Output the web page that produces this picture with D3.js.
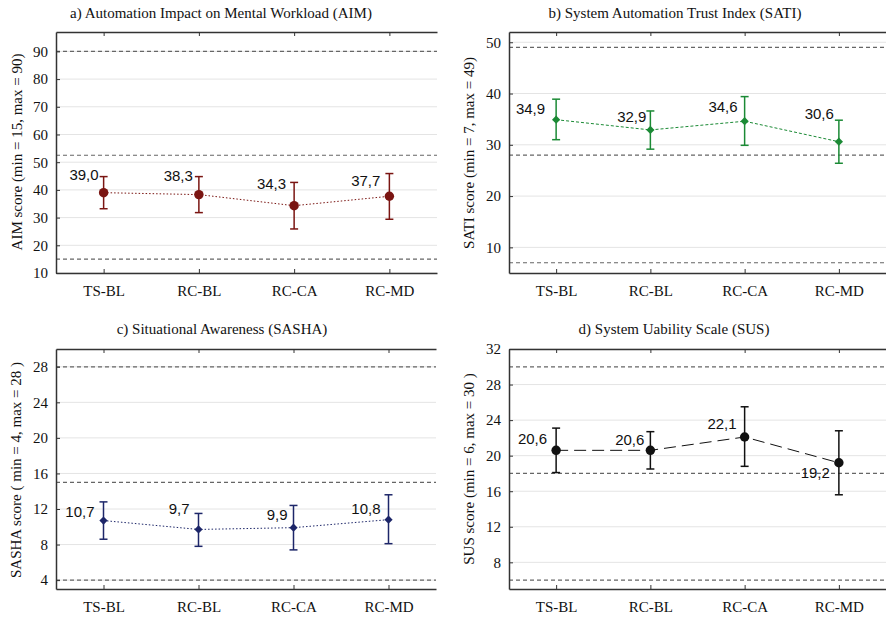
<!DOCTYPE html>
<html>
<head>
<meta charset="utf-8">
<script src="https://cdn.jsdelivr.net/npm/d3@7"></script>
<style>
  body { margin: 0; background: #fff; }
  svg text { fill: #111; }
  .tick-lbl, .axis text { font-family: "Liberation Serif", "Times New Roman", serif; font-size: 15px; }
  .title, .ylab { font-family: "Liberation Serif", "Times New Roman", serif; font-size: 15px; }
  .val { font-family: "Liberation Sans", Arial, sans-serif; font-size: 15px; }
  .axis path, .axis line { stroke: #333; }
</style>
</head>
<body>
<svg id="chart" width="886" height="617"></svg>
<script>
// categorias
const groups = ["TS-BL", "RC-BL", "RC-CA", "RC-MD"];

// a) AIM
const aimMean = [39.0, 38.3, 34.3, 37.7];
const aimLow  = [33.2, 31.8, 25.9, 29.4];
const aimHigh = [44.8, 44.8, 42.7, 45.9];
const aimTicks = [10, 20, 30, 40, 50, 60, 70, 80, 90];
const aimRefs = [15, 52.5, 90];

// b) SATI
const satiMean = [34.9, 32.9, 34.6, 30.6];
const satiLow  = [31.0, 29.15, 29.9, 26.4];
const satiHigh = [38.9, 36.6, 39.4, 34.8];
const satiTicks = [10, 20, 30, 40, 50];
const satiRefs = [7, 28, 49];

// c) SASHA
const sashaMean = [10.7, 9.7, 9.9, 10.8];
const sashaLow  = [8.6, 7.8, 7.4, 8.1];
const sashaHigh = [12.8, 11.5, 12.4, 13.6];
const sashaTicks = [4, 8, 12, 16, 20, 24, 28];
const sashaRefs = [4, 15, 28];

// d) SUS
const susMean = [20.6, 20.6, 22.1, 19.2];
const susLow  = [18.1, 18.5, 18.8, 15.6];
const susHigh = [23.1, 22.7, 25.5, 22.8];
const susTicks = [8, 12, 16, 20, 24, 28, 32];
const susRefs = [6, 18, 30];

const svg = d3.select("#chart");
const fmt = v => d3.format(".1f")(v).replace(".", ",");

// paneles: marco, dominio, estilo
const panels = [
  { title: "a) Automation Impact on Mental Workload (AIM)", tx: 221, ty: 18,
    ylab: "AIM score (min = 15, max = 90)", lx: 22, ly: 152,
    box: [56, 32, 437, 273], domain: [10, 97],
    mean: aimMean, low: aimLow, high: aimHigh, ticks: aimTicks, refs: aimRefs,
    color: "#7a1512", marker: "circle", dash: "1.5,2",
    ldx: [-5, -6, -8, -9], ldy: [-13, -14, -17, -10] },
  { title: "b) System Automation Trust Index (SATI)", tx: 675, ty: 18,
    ylab: "SATI score (min = 7, max = 49)", lx: 474, ly: 153,
    box: [509, 32, 886, 273], domain: [5, 52],
    mean: satiMean, low: satiLow, high: satiHigh, ticks: satiTicks, refs: satiRefs,
    color: "#1b8a35", marker: "diamond", dash: "3,2",
    ldx: [-11, -4, -7, -5], ldy: [-6, -8, -9, -23] },
  { title: "c) Situational Awareness (SASHA)", tx: 222, ty: 334,
    ylab: "SASHA score ( min = 4, max = 28 )", lx: 21, ly: 470,
    box: [56, 349, 436, 589], domain: [3, 30],
    mean: sashaMean, low: sashaLow, high: sashaHigh, ticks: sashaTicks, refs: sashaRefs,
    color: "#1d2669", marker: "diamond", dash: "1.5,2",
    ldx: [-9, -9, -6, -8], ldy: [-4, -15, -8, -6] },
  { title: "d) System Uability Scale (SUS)", tx: 674, ty: 334,
    ylab: "SUS score (min = 6, max = 30 )", lx: 474, ly: 469,
    box: [509, 349, 886, 589], domain: [5, 32],
    mean: susMean, low: susLow, high: susHigh, ticks: susTicks, refs: susRefs,
    color: "#111", marker: "circle", dash: "12,6",
    ldx: [-9, -6, -8, -9], ldy: [-6, -5, -8, 15] }
];

panels.forEach(p => {
  const [x0, y0, x1, y1] = p.box;
  const x = d3.scalePoint().domain(groups).range([x0, x1]).padding(0.5);
  const y = d3.scaleLinear().domain(p.domain).range([y1, y0]);
  const g = svg.append("g");

  // rejilla
  g.selectAll(".grid").data(p.ticks).join("line")
    .attr("x1", x0).attr("x2", x1)
    .attr("y1", d => y(d)).attr("y2", d => y(d))
    .attr("stroke", "#e4e4e4").attr("stroke-width", 1);

  // lineas de referencia
  g.selectAll(".ref").data(p.refs).join("line")
    .attr("x1", x0).attr("x2", x1)
    .attr("y1", d => y(d)).attr("y2", d => y(d))
    .attr("stroke", "#666").attr("stroke-width", 1.2)
    .attr("stroke-dasharray", "4,3");

  // ejes
  g.append("g").attr("class", "axis")
    .attr("transform", `translate(${x0},0)`)
    .call(d3.axisLeft(y).tickValues(p.ticks).tickSize(-4).tickSizeOuter(0).tickPadding(8))
    .call(a => a.select(".domain").attr("stroke-width", 1.5));
  g.append("g").attr("class", "axis")
    .attr("transform", `translate(0,${y1})`)
    .call(d3.axisBottom(x).tickSize(-4).tickSizeOuter(0).tickPadding(12))
    .call(a => a.select(".domain").attr("stroke-width", 1.5));
  g.append("g").attr("class", "axis")
    .attr("transform", `translate(0,${y0})`)
    .call(d3.axisTop(x).tickSize(-4).tickSizeOuter(0).tickFormat(""))
    .call(a => a.select(".domain").attr("stroke-width", 1.5));
  g.selectAll(".axis text").attr("fill", "#111");

  // titulo y etiqueta del eje y
  g.append("text").attr("class", "title")
    .attr("x", p.tx).attr("y", p.ty).attr("text-anchor", "middle").text(p.title);
  g.append("text").attr("class", "ylab")
    .attr("transform", `translate(${p.lx},${p.ly}) rotate(-90)`)
    .attr("text-anchor", "middle").text(p.ylab);

  const pts = groups.map((k, i) => ({ k, m: p.mean[i], lo: p.low[i], hi: p.high[i], i }));

  // linea de medias
  g.append("path").datum(pts)
    .attr("fill", "none").attr("stroke", p.color).attr("stroke-width", 1)
    .attr("stroke-dasharray", p.dash)
    .attr("d", d3.line().x(d => x(d.k)).y(d => y(d.m)));

  // barras de error
  const eb = g.selectAll(".eb").data(pts).join("g").attr("stroke", p.color).attr("stroke-width", 1.5);
  eb.append("line").attr("x1", d => x(d.k)).attr("x2", d => x(d.k))
    .attr("y1", d => y(d.lo)).attr("y2", d => y(d.hi));
  eb.append("line").attr("x1", d => x(d.k) - 4).attr("x2", d => x(d.k) + 4)
    .attr("y1", d => y(d.lo)).attr("y2", d => y(d.lo));
  eb.append("line").attr("x1", d => x(d.k) - 4).attr("x2", d => x(d.k) + 4)
    .attr("y1", d => y(d.hi)).attr("y2", d => y(d.hi));

  // marcadores (rombo = cuadrado girado)
  const isCircle = p.marker === "circle";
  const sym = isCircle ? d3.symbolCircle : d3.symbolSquare;
  const size = isCircle ? 70 : 34;
  g.selectAll(".mk").data(pts).join("path")
    .attr("transform", d => `translate(${x(d.k)},${y(d.m)})` + (isCircle ? "" : " rotate(45)"))
    .attr("d", d3.symbol(sym, size))
    .attr("fill", p.color);

  // etiquetas de valor
  g.selectAll(".val").data(pts).join("text").attr("class", "val")
    .attr("x", d => x(d.k) + p.ldx[d.i])
    .attr("y", d => y(d.m) + p.ldy[d.i])
    .attr("text-anchor", "end")
    .text(d => fmt(d.m));
});
</script>
</body>
</html>
